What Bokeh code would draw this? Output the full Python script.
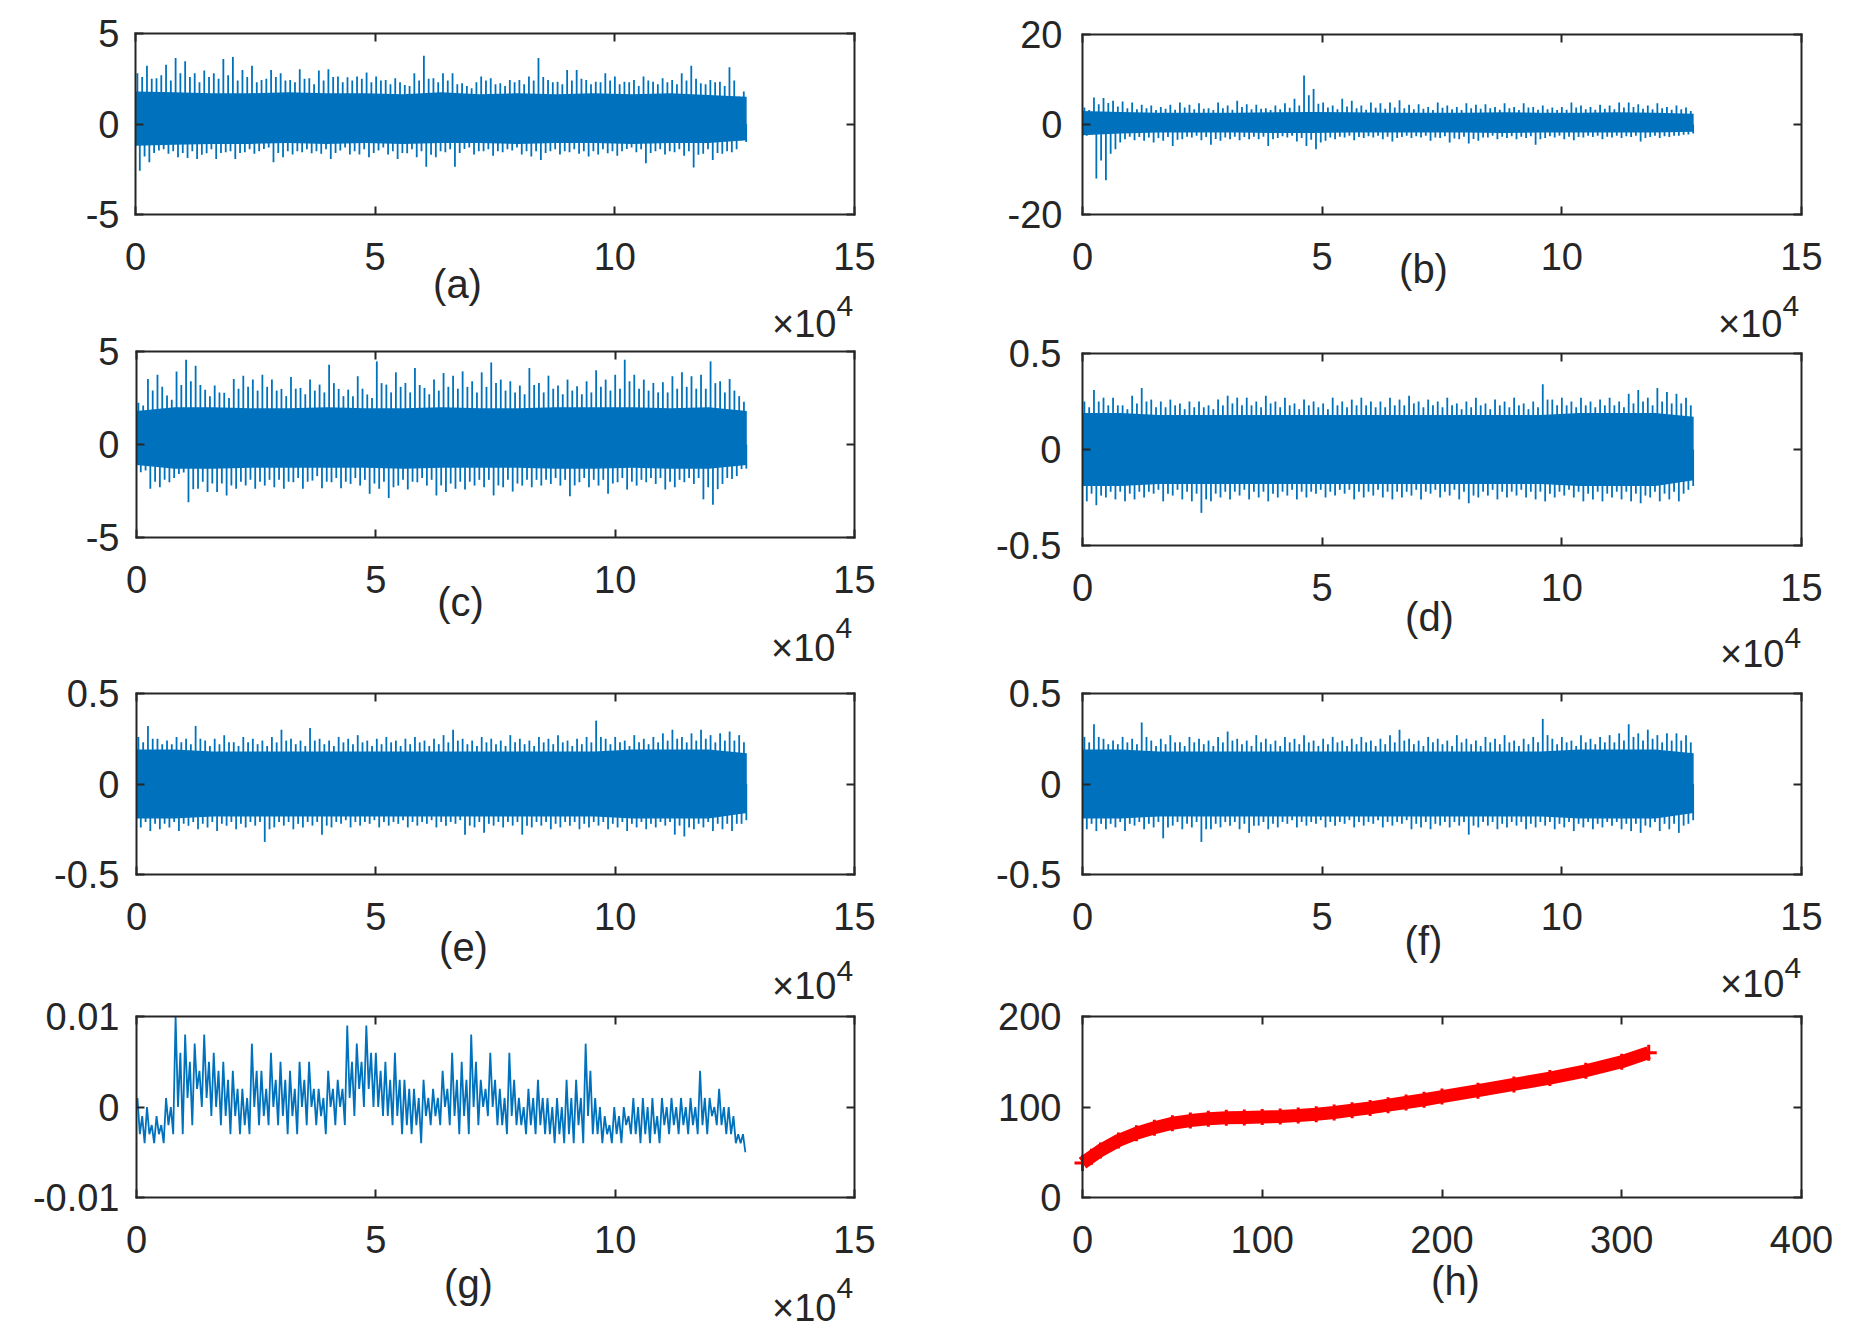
import numpy as np
from bokeh.plotting import figure
from bokeh.models import Range1d, LinearAxis, FixedTicker, Label
from bokeh.embed import file_html
from bokeh.resources import INLINE

BLUE = "#0072BD"
INK = "#262626"
FONT = "Liberation Sans"

# ---------------- data ----------------
# noise panels: x in units of 1e4 samples; per 0.2e4-wide slice: tallest spike (hi/lo),
# second spike (hi2/lo2); band = the solid core of the trace, read at 17 points
signal_end = 12.75

a_hi = [2.81, 3.22, 2.53, 3.27, 3.64, 3.46, 2.81, 2.96, 2.81, 3.59, 3.70, 2.99, 3.22, 2.43, 2.99, 2.81,
        2.43, 3.03, 2.53, 2.96, 3.03, 2.62, 2.58, 2.62, 2.84, 2.62, 2.43, 2.53, 2.16, 2.81, 3.77, 2.53,
        2.81, 2.81, 2.25, 1.97, 2.62, 2.53, 2.25, 2.43, 2.43, 2.62, 3.64, 2.43, 2.34, 2.99, 2.99, 2.43,
        2.34, 2.81, 2.62, 2.34, 2.43, 2.62, 2.34, 2.53, 2.43, 2.81, 3.22, 2.25, 2.43, 2.34, 3.14, 1.50]
a_lo = [-2.58, -2.12, -1.47, -1.65, -1.84, -1.88, -1.93, -1.62, -1.93, -1.56, -1.93, -1.56, -1.65, -1.38, -2.12, -1.84,
        -1.69, -1.56, -1.62, -1.65, -1.93, -1.47, -1.69, -1.69, -1.84, -1.47, -1.69, -1.93, -1.62, -1.84, -2.36, -1.84,
        -1.56, -2.36, -1.38, -1.69, -1.51, -1.75, -1.56, -1.47, -1.69, -1.80, -1.99, -1.51, -1.69, -1.56, -1.65, -1.80,
        -1.69, -1.62, -1.75, -1.38, -1.56, -2.17, -1.51, -1.69, -1.56, -1.75, -2.40, -1.65, -1.99, -1.65, -1.56, -0.91]
a_hi2 = [2.6, 2.5, 2.7, 2.4, 2.8, 2.6, 2.3, 2.6, 2.5, 2.7, 2.4, 2.6, 2.3, 2.5, 2.6, 2.4,
         2.3, 2.5, 2.2, 2.4, 2.6, 2.3, 2.4, 2.5, 2.3, 2.4, 2.2, 2.3, 2.1, 2.4, 2.5, 2.3,
         2.4, 2.2, 2.1, 2.3, 2.4, 2.2, 2.1, 2.3, 2.2, 2.4, 2.6, 2.3, 2.2, 2.4, 2.5, 2.2,
         2.3, 2.4, 2.2, 2.3, 2.1, 2.4, 2.2, 2.3, 2.2, 2.4, 2.5, 2.2, 2.3, 2.1, 2.4, 1.8]
a_lo2 = [-1.8, -1.6, -1.4, -1.5, -1.6, -1.5, -1.7, -1.4, -1.6, -1.5, -1.6, -1.4, -1.5, -1.3, -1.6, -1.5,
         -1.5, -1.4, -1.5, -1.4, -1.6, -1.3, -1.5, -1.4, -1.6, -1.3, -1.5, -1.6, -1.4, -1.5, -1.7, -1.5,
         -1.4, -1.6, -1.3, -1.5, -1.4, -1.5, -1.4, -1.3, -1.5, -1.5, -1.6, -1.4, -1.5, -1.4, -1.5, -1.5,
         -1.4, -1.5, -1.5, -1.3, -1.4, -1.6, -1.4, -1.5, -1.4, -1.5, -1.7, -1.4, -1.6, -1.5, -1.4, -1.0]
a_band_hi = [1.8, 1.75, 1.7, 1.7, 1.75, 1.7, 1.7, 1.65, 1.75, 1.65, 1.7, 1.65, 1.7, 1.65, 1.7, 1.6, 1.5]
a_band_lo = [-1.2, -1.15, -1.1, -1.1, -1.05, -1.1, -1.05, -1.1, -1.05, -1.05, -1.1, -1.05, -1.05, -1.1, -1.05, -1.05, -0.9]

b_hi = [3.8, 6.0, 5.9, 5.3, 5.1, 4.9, 4.4, 4.2, 3.9, 4.4, 4.9, 4.4, 4.7, 3.6, 4.9, 4.2,
        5.3, 4.5, 4.4, 3.6, 4.2, 4.7, 5.7, 10.9, 7.9, 4.9, 4.2, 5.7, 5.3, 4.2, 4.9, 4.7,
        4.9, 5.4, 4.4, 4.5, 3.9, 4.9, 4.2, 3.9, 4.7, 4.4, 4.5, 3.9, 4.7, 3.9, 4.7, 3.9,
        4.2, 3.8, 3.9, 4.9, 4.2, 3.9, 4.4, 4.2, 4.9, 4.9, 4.5, 4.2, 4.7, 3.9, 4.2, 3.8]
b_lo = [-2.5, -12.0, -12.4, -5.5, -3.3, -3.5, -3.6, -4.0, -3.6, -4.8, -3.3, -2.9, -3.5, -4.5, -3.6, -3.3,
        -3.5, -3.3, -3.3, -4.8, -3.0, -2.9, -3.8, -4.8, -5.5, -3.6, -3.3, -2.9, -3.5, -3.0, -2.9, -3.3,
        -3.8, -2.8, -3.0, -2.9, -3.6, -3.0, -4.0, -3.3, -4.2, -3.6, -2.9, -3.3, -3.0, -3.3, -3.0, -4.5,
        -3.0, -2.9, -3.3, -3.5, -2.9, -2.8, -3.3, -2.9, -3.0, -2.8, -3.8, -2.8, -3.0, -2.8, -2.5, -2.2]
b_hi2 = [3.2, 4.5, 4.8, 4.0, 3.6, 3.4, 3.6, 3.2, 3.5, 3.3, 3.8, 3.4, 3.5, 3.2, 3.6, 3.3,
         3.9, 3.4, 3.5, 3.2, 3.4, 3.7, 4.2, 6.5, 4.6, 3.8, 3.4, 4.0, 3.6, 3.3, 3.7, 3.5,
         3.8, 3.6, 3.4, 3.5, 3.2, 3.7, 3.4, 3.2, 3.6, 3.5, 3.6, 3.3, 3.6, 3.2, 3.8, 3.3,
         3.4, 3.2, 3.3, 3.8, 3.4, 3.3, 3.5, 3.4, 3.8, 3.9, 3.5, 3.4, 3.6, 3.3, 3.4, 3.0]
b_lo2 = [-2.2, -8.0, -6.5, -4.0, -2.7, -2.8, -2.9, -3.0, -2.8, -3.4, -2.7, -2.5, -2.8, -3.2, -2.9, -2.7,
         -2.8, -2.7, -2.7, -3.3, -2.6, -2.5, -3.0, -3.4, -4.0, -2.9, -2.7, -2.5, -2.8, -2.6, -2.5, -2.7,
         -3.0, -2.5, -2.6, -2.5, -2.9, -2.6, -3.1, -2.7, -3.2, -2.9, -2.5, -2.7, -2.6, -2.7, -2.6, -3.3,
         -2.6, -2.5, -2.7, -2.8, -2.5, -2.5, -2.7, -2.5, -2.6, -2.5, -3.0, -2.5, -2.6, -2.5, -2.3, -2.0]
b_band_hi = [3.0, 2.8, 2.6, 2.6, 2.6, 2.7, 2.8, 2.7, 2.6, 2.6, 2.6, 2.7, 2.6, 2.6, 2.7, 2.6, 2.4]
b_band_lo = [-2.4, -2.0, -1.8, -1.8, -1.8, -1.9, -1.9, -1.8, -1.8, -1.8, -1.8, -1.9, -1.8, -1.8, -1.8, -1.8, -1.6]

c_hi = [2.24, 3.52, 3.75, 2.63, 3.93, 4.56, 4.23, 2.95, 3.17, 2.78, 3.52, 3.70, 3.49, 3.75, 3.49, 2.99,
        3.63, 3.04, 3.49, 3.22, 4.29, 2.99, 2.95, 3.67, 2.69, 4.47, 3.22, 3.88, 3.31, 4.11, 3.04, 3.49,
        3.84, 3.70, 3.93, 3.40, 3.88, 4.41, 3.49, 3.40, 3.17, 4.11, 3.31, 3.70, 3.17, 3.49, 3.13, 3.40,
        3.99, 3.49, 3.75, 4.56, 3.75, 3.49, 3.31, 3.35, 3.67, 3.88, 3.67, 3.75, 4.47, 3.40, 3.52, 2.60]
c_lo = [-1.49, -2.38, -2.30, -2.03, -1.58, -3.10, -2.38, -2.56, -2.56, -2.74, -2.38, -2.21, -2.38, -2.21, -2.30, -2.38,
        -2.03, -2.38, -1.94, -2.35, -2.03, -2.35, -2.12, -2.21, -2.65, -2.38, -2.88, -2.21, -2.42, -2.03, -2.21, -2.74,
        -2.56, -2.38, -2.42, -2.21, -2.30, -2.74, -2.30, -2.53, -2.21, -2.30, -2.21, -2.12, -2.21, -2.78, -2.03, -2.30,
        -2.21, -2.65, -2.03, -2.42, -2.21, -2.03, -2.12, -2.42, -2.30, -2.03, -2.12, -2.95, -3.24, -2.12, -1.85, -1.32]
c_hi2 = [2.1, 2.9, 3.1, 2.4, 3.2, 3.4, 3.2, 2.6, 2.8, 2.5, 3.0, 3.1, 2.9, 3.1, 2.9, 2.6,
         3.0, 2.7, 2.9, 2.8, 3.3, 2.6, 2.6, 3.0, 2.5, 3.3, 2.8, 3.1, 2.8, 3.2, 2.7, 2.9,
         3.1, 3.0, 3.1, 2.8, 3.1, 3.3, 2.9, 2.8, 2.7, 3.2, 2.8, 3.0, 2.7, 2.9, 2.7, 2.8,
         3.1, 2.9, 3.0, 3.4, 3.0, 2.9, 2.8, 2.8, 3.0, 3.1, 3.0, 3.0, 3.3, 2.8, 2.9, 2.3]
c_lo2 = [-1.4, -2.0, -1.9, -1.8, -1.5, -2.4, -2.0, -2.1, -2.1, -2.2, -2.0, -1.9, -2.0, -1.9, -1.9, -2.0,
         -1.8, -2.0, -1.7, -2.0, -1.8, -2.0, -1.8, -1.9, -2.1, -2.0, -2.3, -1.9, -2.0, -1.8, -1.9, -2.2,
         -2.1, -2.0, -2.0, -1.9, -1.9, -2.2, -1.9, -2.1, -1.9, -1.9, -1.9, -1.8, -1.9, -2.2, -1.8, -1.9,
         -1.9, -2.1, -1.8, -2.0, -1.9, -1.8, -1.8, -2.0, -1.9, -1.8, -1.8, -2.3, -2.4, -1.8, -1.7, -1.3]
c_band_hi = [1.8, 2.0, 2.0, 1.95, 1.95, 2.0, 1.95, 1.95, 2.0, 1.95, 1.95, 2.0, 2.0, 2.0, 1.95, 2.0, 1.8]
c_band_lo = [-1.1, -1.3, -1.3, -1.25, -1.25, -1.25, -1.25, -1.3, -1.25, -1.25, -1.25, -1.3, -1.3, -1.25, -1.3, -1.3, -1.1]

d_hi = [0.25, 0.31, 0.27, 0.27, 0.23, 0.28, 0.32, 0.26, 0.25, 0.26, 0.24, 0.25, 0.25, 0.23, 0.26, 0.28,
        0.27, 0.27, 0.25, 0.28, 0.25, 0.27, 0.24, 0.26, 0.25, 0.24, 0.27, 0.25, 0.26, 0.27, 0.25, 0.25,
        0.27, 0.26, 0.28, 0.25, 0.26, 0.25, 0.27, 0.24, 0.25, 0.27, 0.24, 0.26, 0.25, 0.27, 0.24, 0.25,
        0.34, 0.26, 0.27, 0.25, 0.27, 0.25, 0.26, 0.27, 0.25, 0.29, 0.31, 0.27, 0.32, 0.30, 0.29, 0.27]
d_lo = [-0.27, -0.29, -0.25, -0.26, -0.27, -0.26, -0.25, -0.23, -0.27, -0.24, -0.26, -0.27, -0.33, -0.27, -0.25, -0.26,
        -0.24, -0.26, -0.25, -0.27, -0.25, -0.24, -0.26, -0.25, -0.23, -0.25, -0.24, -0.23, -0.26, -0.25, -0.24, -0.25,
        -0.26, -0.25, -0.24, -0.26, -0.23, -0.25, -0.24, -0.26, -0.28, -0.25, -0.24, -0.26, -0.25, -0.24, -0.25, -0.26,
        -0.27, -0.25, -0.24, -0.25, -0.27, -0.26, -0.27, -0.25, -0.26, -0.27, -0.28, -0.25, -0.27, -0.26, -0.27, -0.21]
d_hi2 = [0.22, 0.25, 0.23, 0.23, 0.21, 0.24, 0.25, 0.22, 0.22, 0.23, 0.21, 0.22, 0.22, 0.21, 0.23, 0.24,
         0.23, 0.23, 0.22, 0.24, 0.22, 0.23, 0.21, 0.23, 0.22, 0.21, 0.23, 0.22, 0.23, 0.23, 0.22, 0.22,
         0.23, 0.23, 0.24, 0.22, 0.23, 0.22, 0.23, 0.21, 0.22, 0.23, 0.21, 0.23, 0.22, 0.23, 0.21, 0.22,
         0.26, 0.23, 0.23, 0.22, 0.23, 0.22, 0.23, 0.23, 0.22, 0.24, 0.25, 0.23, 0.25, 0.24, 0.24, 0.23]
d_lo2 = [-0.23, -0.24, -0.22, -0.22, -0.23, -0.22, -0.22, -0.21, -0.23, -0.21, -0.22, -0.23, -0.26, -0.23, -0.22, -0.22,
         -0.21, -0.22, -0.22, -0.23, -0.22, -0.21, -0.22, -0.22, -0.21, -0.22, -0.21, -0.21, -0.22, -0.22, -0.21, -0.22,
         -0.22, -0.22, -0.21, -0.22, -0.21, -0.22, -0.21, -0.22, -0.24, -0.22, -0.21, -0.22, -0.22, -0.21, -0.22, -0.22,
         -0.23, -0.22, -0.21, -0.22, -0.23, -0.22, -0.23, -0.22, -0.22, -0.23, -0.24, -0.22, -0.23, -0.22, -0.23, -0.19]
d_band_hi = [0.19, 0.19, 0.18, 0.18, 0.18, 0.18, 0.18, 0.18, 0.18, 0.18, 0.18, 0.18, 0.18, 0.19, 0.19, 0.19, 0.17]
d_band_lo = [-0.19, -0.19, -0.18, -0.18, -0.18, -0.18, -0.18, -0.18, -0.18, -0.18, -0.18, -0.18, -0.18, -0.19, -0.19, -0.19, -0.16]

e_hi = [0.26, 0.32, 0.25, 0.24, 0.26, 0.25, 0.32, 0.24, 0.25, 0.27, 0.23, 0.26, 0.25, 0.24, 0.26, 0.30,
        0.25, 0.24, 0.31, 0.25, 0.24, 0.26, 0.25, 0.27, 0.24, 0.25, 0.26, 0.24, 0.25, 0.26, 0.24, 0.25,
        0.27, 0.30, 0.25, 0.24, 0.26, 0.25, 0.24, 0.27, 0.25, 0.24, 0.26, 0.25, 0.27, 0.24, 0.25, 0.26,
        0.35, 0.25, 0.26, 0.24, 0.27, 0.25, 0.26, 0.28, 0.30, 0.26, 0.28, 0.30, 0.27, 0.28, 0.29, 0.27]
e_lo = [-0.24, -0.26, -0.25, -0.24, -0.26, -0.23, -0.25, -0.24, -0.26, -0.23, -0.25, -0.24, -0.23, -0.32, -0.24, -0.23,
        -0.25, -0.24, -0.23, -0.28, -0.24, -0.22, -0.24, -0.23, -0.22, -0.24, -0.23, -0.22, -0.24, -0.23, -0.22, -0.24,
        -0.23, -0.22, -0.28, -0.24, -0.27, -0.23, -0.24, -0.23, -0.28, -0.24, -0.23, -0.25, -0.24, -0.23, -0.25, -0.24,
        -0.23, -0.25, -0.24, -0.26, -0.24, -0.25, -0.24, -0.23, -0.28, -0.29, -0.25, -0.24, -0.26, -0.25, -0.26, -0.22]
e_hi2 = [0.23, 0.25, 0.22, 0.22, 0.23, 0.22, 0.25, 0.21, 0.22, 0.23, 0.21, 0.23, 0.22, 0.21, 0.23, 0.24,
         0.22, 0.21, 0.24, 0.22, 0.21, 0.23, 0.22, 0.23, 0.21, 0.22, 0.23, 0.21, 0.22, 0.23, 0.21, 0.22,
         0.23, 0.24, 0.22, 0.21, 0.23, 0.22, 0.21, 0.23, 0.22, 0.21, 0.23, 0.22, 0.23, 0.21, 0.22, 0.23,
         0.26, 0.22, 0.23, 0.21, 0.23, 0.22, 0.23, 0.24, 0.25, 0.23, 0.24, 0.25, 0.23, 0.24, 0.24, 0.23]
e_lo2 = [-0.21, -0.22, -0.22, -0.21, -0.22, -0.21, -0.22, -0.21, -0.22, -0.21, -0.22, -0.21, -0.21, -0.25, -0.21, -0.21,
         -0.22, -0.21, -0.21, -0.23, -0.21, -0.20, -0.21, -0.21, -0.20, -0.21, -0.21, -0.20, -0.21, -0.21, -0.20, -0.21,
         -0.21, -0.20, -0.23, -0.21, -0.22, -0.21, -0.21, -0.21, -0.23, -0.21, -0.21, -0.22, -0.21, -0.21, -0.22, -0.21,
         -0.21, -0.22, -0.21, -0.22, -0.21, -0.22, -0.21, -0.21, -0.23, -0.24, -0.22, -0.21, -0.22, -0.22, -0.22, -0.20]
e_band_hi = [0.19, 0.19, 0.18, 0.18, 0.18, 0.18, 0.18, 0.18, 0.18, 0.18, 0.18, 0.18, 0.18, 0.19, 0.19, 0.19, 0.17]
e_band_lo = [-0.19, -0.19, -0.18, -0.18, -0.18, -0.18, -0.18, -0.18, -0.18, -0.18, -0.18, -0.18, -0.18, -0.19, -0.19, -0.19, -0.16]

f_hi = [0.26, 0.33, 0.25, 0.24, 0.26, 0.25, 0.34, 0.24, 0.25, 0.27, 0.23, 0.26, 0.25, 0.24, 0.26, 0.29,
        0.25, 0.24, 0.27, 0.25, 0.24, 0.26, 0.25, 0.27, 0.24, 0.25, 0.26, 0.24, 0.25, 0.26, 0.24, 0.25,
        0.27, 0.30, 0.25, 0.24, 0.26, 0.25, 0.24, 0.27, 0.25, 0.24, 0.26, 0.25, 0.27, 0.24, 0.25, 0.26,
        0.36, 0.25, 0.26, 0.24, 0.27, 0.25, 0.26, 0.27, 0.28, 0.33, 0.28, 0.30, 0.27, 0.28, 0.28, 0.27]
f_lo = [-0.25, -0.26, -0.25, -0.24, -0.26, -0.23, -0.25, -0.24, -0.30, -0.23, -0.25, -0.24, -0.32, -0.25, -0.24, -0.23,
        -0.25, -0.27, -0.23, -0.25, -0.24, -0.22, -0.24, -0.23, -0.22, -0.24, -0.23, -0.22, -0.24, -0.23, -0.22, -0.24,
        -0.23, -0.22, -0.25, -0.24, -0.25, -0.23, -0.24, -0.23, -0.28, -0.24, -0.23, -0.25, -0.24, -0.23, -0.25, -0.24,
        -0.23, -0.25, -0.24, -0.26, -0.24, -0.25, -0.24, -0.23, -0.25, -0.26, -0.27, -0.24, -0.26, -0.25, -0.27, -0.22]
f_hi2 = [0.23, 0.26, 0.22, 0.22, 0.23, 0.22, 0.26, 0.21, 0.22, 0.23, 0.21, 0.23, 0.22, 0.21, 0.23, 0.24,
         0.22, 0.21, 0.23, 0.22, 0.21, 0.23, 0.22, 0.23, 0.21, 0.22, 0.23, 0.21, 0.22, 0.23, 0.21, 0.22,
         0.23, 0.24, 0.22, 0.21, 0.23, 0.22, 0.21, 0.23, 0.22, 0.21, 0.23, 0.22, 0.23, 0.21, 0.22, 0.23,
         0.27, 0.22, 0.23, 0.21, 0.23, 0.22, 0.23, 0.23, 0.24, 0.26, 0.24, 0.25, 0.23, 0.24, 0.24, 0.23]
f_lo2 = [-0.22, -0.22, -0.22, -0.21, -0.22, -0.21, -0.22, -0.21, -0.24, -0.21, -0.22, -0.21, -0.25, -0.22, -0.21, -0.21,
         -0.22, -0.23, -0.21, -0.22, -0.21, -0.20, -0.21, -0.21, -0.20, -0.21, -0.21, -0.20, -0.21, -0.21, -0.20, -0.21,
         -0.21, -0.20, -0.22, -0.21, -0.22, -0.21, -0.21, -0.21, -0.23, -0.21, -0.21, -0.22, -0.21, -0.21, -0.22, -0.21,
         -0.21, -0.22, -0.21, -0.22, -0.21, -0.22, -0.21, -0.21, -0.22, -0.22, -0.23, -0.21, -0.22, -0.22, -0.23, -0.20]
f_band_hi = [0.19, 0.19, 0.18, 0.18, 0.18, 0.18, 0.18, 0.18, 0.18, 0.18, 0.18, 0.18, 0.18, 0.19, 0.19, 0.19, 0.17]
f_band_lo = [-0.19, -0.19, -0.18, -0.18, -0.18, -0.18, -0.18, -0.18, -0.18, -0.18, -0.18, -0.18, -0.18, -0.19, -0.19, -0.19, -0.16]

# panel (g): quantised signal per 0.2e4 slice, in units of 0.001 (max, typical high, typical low, min)
g_max_milli = [1, 0, -1, 1, 10, 8, 7, 8, 6, 5, 4, 2, 7, 4, 6, 5, 4, 5, 5, 2, 4, 3, 9, 7, 9, 6, 5, 6, 3, 2, 3, 2,
               4, 6, 5, 8, 3, 6, 2, 6, 1, 2, 3, 1, 1, 3, 3, 7, 1, -1, 0, 0, 1, 1, 1, 1, 1, 1, 1, 4, 1, 2, 0, -3]
g_hi2_milli = [-1, -2, -2, 0, 6, 5, 4, 5, 4, 3, 2, 1, 4, 2, 3, 3, 2, 3, 2, 1, 2, 2, 5, 5, 6, 4, 3, 3, 2, 1, 1, 1,
               2, 3, 3, 5, 2, 3, 1, 3, 0, 1, 1, 0, 0, 1, 1, 4, 0, -2, -1, -1, 0, 0, -1, 0, 0, 0, 0, 1, 0, 0, -1, -3]
g_lo2_milli = [-3, -3, -3, -2, 0, 1, 2, 1, 0, -1, -1, -2, 0, -1, 0, -1, -1, 0, 0, -1, 0, 0, 1, 2, 2, 0, -1, -1, -2,
               -2, -1, -1, 0, -1, -1, 0, 0, 0, -2, -1, -2, -2, -2, -3, -3, -3, -2, -1, -3, -3, -3, -2, -3, -3, -3, -2,
               -2, -2, -2, -2, -1, -2, -3, -4]
g_min_milli = [-4, -4, -4, -3, -3, -2, 0, -1, -2, -3, -3, -3, -2, -2, -2, -3, -3, -2, -2, -3, -2, -2, -1, 0, 0, -1,
               -2, -3, -3, -4, -2, -2, -2, -3, -3, -2, -1, -2, -3, -2, -3, -3, -3, -4, -4, -4, -4, -3, -4, -4, -4, -3,
               -4, -4, -4, -3, -3, -3, -3, -3, -2, -3, -4, -5]

# panel (h)
h_x = [0, 5, 10, 20, 30, 40, 50, 60, 70, 80, 90, 100, 110, 120, 130, 140, 150, 160, 170, 180, 190, 200,
       220, 240, 260, 280, 300, 315]
h_y = [38, 45, 52, 63, 71, 77, 82, 85, 87, 88, 88.5, 89, 89.5, 90.5, 92, 94, 96.5, 99, 102, 105, 108, 111.5,
       118, 125, 132, 140, 150, 160]

# ticks
x_ticks_sig = [0, 5, 10, 15]
x_labels_sig = ["0", "5", "10", "15"]
y_ticks_5 = [-5, 0, 5]
y_labels_5 = ["-5", "0", "5"]
y_ticks_20 = [-20, 0, 20]
y_labels_20 = ["-20", "0", "20"]
y_ticks_05 = [-0.5, 0, 0.5]
y_labels_05 = ["-0.5", "0", "0.5"]
y_ticks_001 = [-0.01, 0, 0.01]
y_labels_001 = ["-0.01", "0", "0.01"]
x_ticks_h = [0, 100, 200, 300, 400]
x_labels_h = ["0", "100", "200", "300", "400"]
y_ticks_h = [0, 100, 200]
y_labels_h = ["0", "100", "200"]
panel_letters = ["(a)", "(b)", "(c)", "(d)", "(e)", "(f)", "(g)", "(h)"]

# ---------------- canvas: one figure, pixel coordinates, y downward ----------------
W, H = 1850, 1336
p = figure(width=W, height=H, x_range=Range1d(0, W), y_range=Range1d(H, 0),
           min_border=0, min_border_left=0, min_border_right=0, min_border_top=0, min_border_bottom=0,
           toolbar_location=None, output_backend="svg", tools="", title=None,
           x_axis_location=None, y_axis_location=None)
p.outline_line_color = None
p.grid.visible = False
p.background_fill_color = "white"
p.border_fill_color = "white"


def style_axis(ax, ticks, labels, show, standoff=0):
    ax.ticker = FixedTicker(ticks=ticks, minor_ticks=[])
    ax.major_label_overrides = {t: l for t, l in zip(ticks, labels)}
    ax.major_tick_in = 8
    ax.major_tick_out = 0
    ax.major_tick_line_width = 2
    ax.major_tick_line_color = INK
    ax.minor_tick_line_color = None
    ax.axis_line_color = INK
    ax.axis_line_width = 2
    ax.axis_line_cap = "square"
    ax.major_label_text_font = FONT
    ax.major_label_text_font_size = "38px"
    ax.major_label_standoff = standoff
    ax.major_label_text_color = INK if show else None


def add_panel(key, box, xr, yr, xt, xl, yt, yl, ystand):
    L, R, T, B = box
    x0, x1 = xr
    y0, y1 = yr
    kx = (x1 - x0) / (R - L)
    ky = (y1 - y0) / (B - T)
    xn, yn = "x" + key, "y" + key
    p.extra_x_ranges[xn] = Range1d(start=x0 - L * kx, end=x0 + (W - L) * kx)
    p.extra_y_ranges[yn] = Range1d(start=y1 - (H - T) * ky, end=y1 + T * ky)
    for side, loc, bnds, tk, lb, show, so in [
        ("below", y0, (x0, x1), xt, xl, True, 28),
        ("above", y1, (x0, x1), xt, xl, False, 0),
        ("left", x0, (y0, y1), yt, yl, True, ystand),
        ("right", x1, (y0, y1), yt, yl, False, 0),
    ]:
        ax = LinearAxis(x_range_name=xn, y_range_name=yn, fixed_location=loc, bounds=bnds)
        style_axis(ax, tk, lb, show, so)
        p.add_layout(ax, side)
    return dict(x_range_name=xn, y_range_name=yn)


def spikes(rn, vals, offset, lw):
    n = len(vals)
    w = signal_end / n
    xs = [w * (i + offset) for i in range(n)]
    p.segment(x0=xs, y0=[0] * n, x1=xs, y1=vals, line_color=BLUE, line_width=lw, **rn)


def draw_noise(rn, hi, lo, hi2, lo2, band_hi, band_lo, lw=1.8):
    bx = np.linspace(0, signal_end, len(band_hi))
    p.varea(x=bx, y1=band_lo, y2=band_hi, fill_color=BLUE, **rn)
    spikes(rn, hi, 0.20, lw)
    spikes(rn, hi2, 0.70, lw)
    spikes(rn, lo, 0.45, lw)
    spikes(rn, lo2, 0.95, lw)


LABEL_SHIFT = -15  # Bokeh's alphabetic baseline sits lower than the measured glyph baseline


def text(x, y, s, size, align):
    p.add_layout(Label(x=x, y=y + LABEL_SHIFT, text=s, text_font=FONT, text_font_size=size, text_color=INK,
                       text_align=align, text_baseline="alphabetic"))


def exponent(x_right, base10, base4):
    text(x_right, base10, "\u00d710", "38px", "right")
    text(x_right, base4, "4", "30px", "left")


XS = (0, 15)
ra = add_panel("a", (135, 854, 33, 214), XS, (-5, 5), x_ticks_sig, x_labels_sig, y_ticks_5, y_labels_5, 16)
rb = add_panel("b", (1082, 1801, 34, 214), XS, (-20, 20), x_ticks_sig, x_labels_sig, y_ticks_20, y_labels_20, 20)
rc = add_panel("c", (136, 854, 351, 537), XS, (-5, 5), x_ticks_sig, x_labels_sig, y_ticks_5, y_labels_5, 17)
rd = add_panel("d", (1082, 1801, 353, 545), XS, (-0.5, 0.5), x_ticks_sig, x_labels_sig, y_ticks_05, y_labels_05, 21)
re_ = add_panel("e", (136, 854, 693, 874), XS, (-0.5, 0.5), x_ticks_sig, x_labels_sig, y_ticks_05, y_labels_05, 17)
rf = add_panel("f", (1082, 1801, 693, 874), XS, (-0.5, 0.5), x_ticks_sig, x_labels_sig, y_ticks_05, y_labels_05, 21)
rg = add_panel("g", (136, 854, 1016, 1197), XS, (-0.01, 0.01), x_ticks_sig, x_labels_sig, y_ticks_001, y_labels_001, 17)
rh = add_panel("h", (1082, 1801, 1016, 1197), (0, 400), (0, 200), x_ticks_h, x_labels_h, y_ticks_h, y_labels_h, 21)

draw_noise(ra, a_hi, a_lo, a_hi2, a_lo2, a_band_hi, a_band_lo)
draw_noise(rb, b_hi, b_lo, b_hi2, b_lo2, b_band_hi, b_band_lo)
draw_noise(rc, c_hi, c_lo, c_hi2, c_lo2, c_band_hi, c_band_lo)
draw_noise(rd, d_hi, d_lo, d_hi2, d_lo2, d_band_hi, d_band_lo)
draw_noise(re_, e_hi, e_lo, e_hi2, e_lo2, e_band_hi, e_band_lo)
draw_noise(rf, f_hi, f_lo, f_hi2, f_lo2, f_band_hi, f_band_lo)

# panel (g): quantised trace, visiting max, typical low, typical high, min in each slice
ng = len(g_max_milli)
wg = signal_end / ng
gx, gy = [], []
for i in range(ng):
    gx += [wg * (i + 0.1), wg * (i + 0.35), wg * (i + 0.6), wg * (i + 0.85)]
    gy += [g_max_milli[i] * 0.001, g_lo2_milli[i] * 0.001, g_hi2_milli[i] * 0.001, g_min_milli[i] * 0.001]
p.line(gx, gy, line_color=BLUE, line_width=1.8, **rg)

# panel (h)
p.line(h_x, h_y, line_color="red", line_width=13, **rh)
p.scatter(h_x, h_y, marker="cross", size=16, line_color="red", line_width=3, **rh)

# panel letters (pixel placement)
letter_pos = [(457, 298), (1423, 283), (460, 616), (1429, 631), (463, 961), (1423, 955), (468, 1298), (1455, 1295)]
for s, (lx, ly) in zip(panel_letters, letter_pos):
    text(lx, ly, s, "40px", "center")

# x10^4 multipliers
exponent(836, 338, 320)
exponent(1782, 338, 320)
exponent(835, 662, 642)
exponent(1784, 668, 652)
exponent(836, 1000, 985)
exponent(1784, 998, 982)
exponent(836, 1322, 1302)

open("out.html", "w").write(file_html(p, INLINE))
